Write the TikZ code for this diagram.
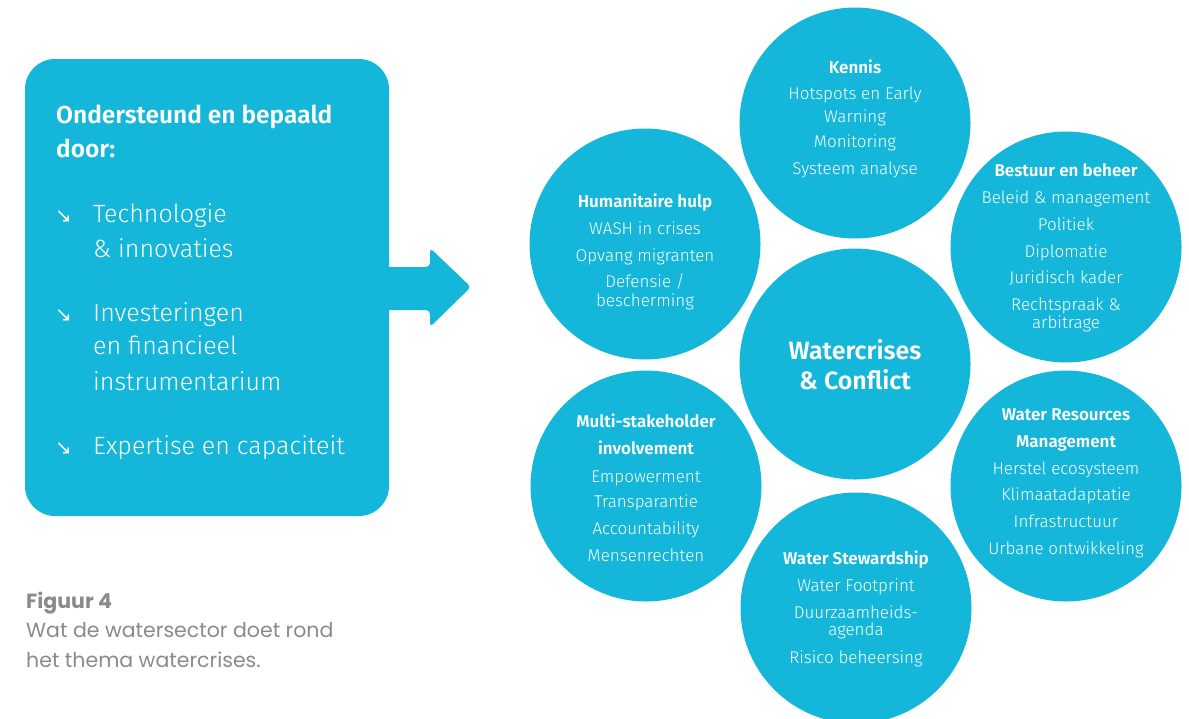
\documentclass[tikz,border=0pt]{standalone}
\usepackage{fontspec}
\setmainfont{Fira Sans}[UprightFont=* Light, BoldFont=* SemiBold]
\newfontfamily\arrowfont{DejaVu Sans}
\newfontfamily\capfont{Poppins}
\definecolor{wcyan}{RGB}{20,183,217}
\definecolor{capgray}{RGB}{138,138,138}
\begin{document}
\begin{tikzpicture}[x=1pt,y=-1pt,
  bubble/.style={circle, fill=wcyan, minimum size=231pt, inner sep=0pt},
  ctext/.style={anchor=base, inner sep=0pt, text=white, font=\fontsize{17}{20}\selectfont},
  bigtext/.style={anchor=base, inner sep=0pt, text=white, font=\fontsize{25}{30}\selectfont\bfseries},
  headtext/.style={anchor=base west, inner sep=0pt, text=white, font=\fontsize{24.5}{30}\selectfont\bfseries},
  itemtext/.style={anchor=base west, inner sep=0pt, text=white, font=\fontsize{25}{30}\selectfont},
  bullet/.style={anchor=base west, inner sep=0pt, text=white, font=\fontsize{20}{20}\selectfont\arrowfont},
  captext/.style={anchor=base west, inner sep=0pt, text=capgray, font=\fontsize{20.5}{26}\selectfont\capfont}
]
\useasboundingbox (0,0) rectangle (1189,718);
\clip (0,0) rectangle (1189,718);

% left box and arrow
\node[fill=wcyan, rounded corners=30pt, minimum width=364pt, minimum height=457pt, inner sep=0pt] (box) at (207,287.5) {};
\coordinate (arrowtip) at (471,287);
\fill[wcyan, rounded corners=4pt] (380,267) -- (430,267) -- (430,248) -- (arrowtip) -- (430,327) -- (430,310) -- (380,310) -- cycle;

\node[headtext] (head1) at (56,123) {Ondersteund en bepaald};
\node[headtext] (head2) at (56,157) {door:};
\node[bullet] (b1) at (55,222) {↘};
\node[bullet] (b2) at (55,321) {↘};
\node[bullet] (b3) at (55,454) {↘};
\node[itemtext] (i1a) at (93,222) {Technologie};
\node[itemtext] (i1b) at (93,257) {\& innovaties};
\node[itemtext] (i2a) at (93,321) {Investeringen};
\node[itemtext] (i2b) at (93,354) {en financieel};
\node[itemtext] (i2c) at (93,390) {instrumentarium};
\node[itemtext] (i3a) at (93,454) {Expertise en capaciteit};

% caption
\node[captext, font=\fontsize{20.5}{26}\selectfont\capfont\bfseries] (cap1) at (26,608) {Figuur 4};
\node[captext] (cap2) at (26,637) {Wat de watersector doet rond};
\node[captext] (cap3) at (26,667) {het thema watercrises.};

% circles
\node[bubble] (kennis) at (855,123) {};
\node[bubble] (human) at (645,244) {};
\node[bubble] (bestuur) at (1066,247) {};
\node[bubble] (center) at (855,364) {};
\node[bubble] (multi) at (646,486) {};
\node[bubble] (wrm) at (1066,486) {};
\node[bubble] (stew) at (856,608) {};

\foreach \y/\t [count=\i] in {73/{\bfseries Kennis}, 99/{Hotspots en Early}, 122/Warning, 147/Monitoring, 174/{Systeem analyse}}
  \node[ctext] (kennis-\i) at (855,\y) {\t};
\foreach \y/\t [count=\i] in {207/{\bfseries Humanitaire hulp}, 234/{WASH in crises}, 261/{Opvang migranten}, 287/{Defensie /}, 306/bescherming}
  \node[ctext] (human-\i) at (645,\y) {\t};
\foreach \y/\t [count=\i] in {176/{\bfseries Bestuur en beheer}, 203/{Beleid \& management}, 230/Politiek, 257/Diplomatie, 283/{Juridisch kader}, 310/{Rechtspraak \&}, 328/arbitrage}
  \node[ctext] (bestuur-\i) at (1066,\y) {\t};
\node[bigtext] (center-1) at (855,359) {Watercrises};
\node[bigtext] (center-2) at (855,389) {\& Conflict};
\foreach \y/\t [count=\i] in {427/{\bfseries Multi-stakeholder}, 454/{\bfseries involvement}, 482/Empowerment, 507/Transparantie, 534/Accountability, 561/Mensenrechten}
  \node[ctext] (multi-\i) at (646,\y) {\t};
\foreach \y/\t [count=\i] in {420/{\bfseries Water Resources}, 447/{\bfseries Management}, 474/{Herstel ecosysteem}, 500/Klimaatadaptatie, 527/Infrastructuur, 554/{Urbane ontwikkeling}}
  \node[ctext] (wrm-\i) at (1066,\y) {\t};
\foreach \y/\t [count=\i] in {564/{\bfseries Water Stewardship}, 591/{Water Footprint}, 618/{Duurzaamheids-}, 635/agenda, 663/{Risico beheersing}}
  \node[ctext] (stew-\i) at (856,\y) {\t};
\end{tikzpicture}
\end{document}
